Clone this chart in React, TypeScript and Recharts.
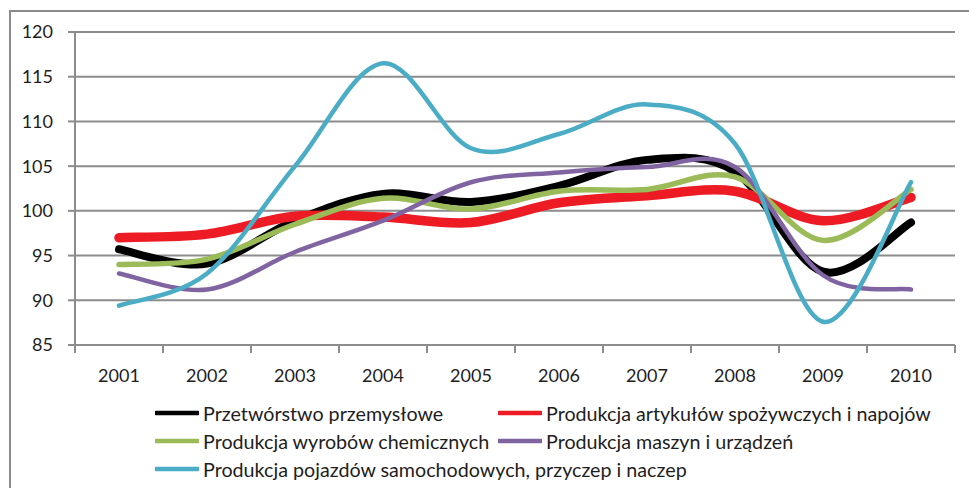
import React from 'react';
import { LineChart, Line, XAxis, YAxis, CartesianGrid, Legend } from 'recharts';

const years = ['2001', '2002', '2003', '2004', '2005', '2006', '2007', '2008', '2009', '2010'];
const przetworstwo = [95.7, 94.1, 98.9, 101.9, 101.0, 102.8, 105.7, 104.4, 93.2, 98.7];
const spozywcze = [97.0, 97.4, 99.4, 99.3, 98.7, 100.9, 101.7, 102.2, 98.9, 101.5];
const chemiczne = [94.0, 94.6, 98.5, 101.4, 100.2, 102.2, 102.4, 103.8, 96.7, 102.4];
const maszyny = [93.0, 91.2, 95.4, 98.9, 103.2, 104.3, 104.9, 104.9, 92.8, 91.2];
const pojazdy = [89.4, 93.0, 105.0, 116.5, 107.0, 108.6, 111.9, 107.5, 87.6, 103.2];
const yTicks = [85, 90, 95, 100, 105, 110, 115, 120];

const seriesNames = [
  'Przetwórstwo przemysłowe',
  'Produkcja artykułów spożywczych i napojów',
  'Produkcja wyrobów chemicznych',
  'Produkcja maszyn i urządzeń',
  'Produkcja pojazdów samochodowych, przyczep i naczep',
];
const seriesKeys = ['a', 'b', 'c', 'd', 'e'];
const seriesColors = ['#000000', '#ED1C24', '#9BBB59', '#8064A2', '#4BACC6'];
const seriesWidths = [8, 9.5, 5.5, 4.5, 4.5];

const data = years.map((y, i) => ({
  year: y,
  a: przetworstwo[i],
  b: spozywcze[i],
  c: chemiczne[i],
  d: maszyny[i],
  e: pojazdy[i],
}));

// Excel-like smoothing (Catmull-Rom / cardinal tension 0)
function excelCurve(context: any) {
  let pts: number[][] = [];
  return {
    areaStart() {},
    areaEnd() {},
    lineStart() {
      pts = [];
    },
    point(x: number, y: number) {
      pts.push([+x, +y]);
    },
    lineEnd() {
      const n = pts.length;
      if (!n) return;
      context.moveTo(pts[0][0], pts[0][1]);
      for (let i = 0; i < n - 1; i++) {
        const p0 = pts[i - 1] || pts[i];
        const p1 = pts[i];
        const p2 = pts[i + 1];
        const p3 = pts[i + 2] || pts[i + 1];
        context.bezierCurveTo(
          p1[0] + (p2[0] - p0[0]) / 6,
          p1[1] + (p2[1] - p0[1]) / 6,
          p2[0] - (p3[0] - p1[0]) / 6,
          p2[1] - (p3[1] - p1[1]) / 6,
          p2[0],
          p2[1]
        );
      }
    },
  };
}

const FONT = 'Lato, "Open Sans", sans-serif';
const TEXT = '#1e1e1e';
const GRID = '#8c8c8c';

const W = 969;
const H = 488;
const PLOT_LEFT = 75;
const PLOT_RIGHT = 955;
const BAND = (PLOT_RIGHT - PLOT_LEFT) / years.length;

const XTick = (props: any) => {
  const { x, y, payload, index } = props;
  const isLast = index === years.length - 1;
  return (
    <g>
      <line x1={x - BAND / 2} x2={x - BAND / 2} y1={y - 8} y2={y} stroke={GRID} strokeWidth={2} />
      {isLast && <line x1={x + BAND / 2} x2={x + BAND / 2} y1={y - 8} y2={y} stroke={GRID} strokeWidth={2} />}
      <text x={x} y={y + 29} textAnchor="middle" fontFamily={FONT} fontSize={18} fill={TEXT}>
        {payload.value}
      </text>
    </g>
  );
};

const LegendContent = () => (
  <div style={{ position: 'relative', width: W, height: 84, fontFamily: FONT, fontSize: 19.7, color: TEXT }}>
    {seriesNames.map((name, i) => {
      const col = i === 4 ? 0 : i % 2;
      const row = Math.floor(i / 2);
      return (
        <div
          key={name}
          style={{
            position: 'absolute',
            left: col === 0 ? 155 : 498,
            top: row * 28,
            height: 28,
            display: 'flex',
            alignItems: 'center',
            whiteSpace: 'nowrap',
          }}
        >
          <svg width={44} height={6} style={{ marginRight: 4 }}>
            <line x1={1} x2={43} y1={3} y2={3} stroke={seriesColors[i]} strokeWidth={4.5} strokeLinecap="round" />
          </svg>
          <span>{name}</span>
        </div>
      );
    })}
  </div>
);

export default function App() {
  return (
    <div style={{ position: 'absolute', left: 0, top: 0, width: W, height: H, overflow: 'hidden', background: '#fff' }}>
      <div
        style={{
          position: 'absolute',
          left: 9,
          top: 10,
          width: 1000,
          height: 600,
          border: '2px solid #8a8a8a',
          boxSizing: 'border-box',
        }}
      />
      <LineChart width={W} height={H} data={data} margin={{ top: 32, right: W - PLOT_RIGHT, bottom: 0, left: 0 }}>
        <CartesianGrid vertical={false} stroke={GRID} strokeWidth={2} />
        <XAxis
          dataKey="year"
          height={143}
          padding={{ left: BAND / 2, right: BAND / 2 }}
          axisLine={{ stroke: GRID, strokeWidth: 2 }}
          tickLine={false}
          tickSize={8}
          tickMargin={0}
          tick={<XTick />}
          interval={0}
        />
        <YAxis
          domain={[85, 120]}
          ticks={yTicks}
          width={PLOT_LEFT}
          axisLine={{ stroke: GRID, strokeWidth: 2 }}
          tickLine={{ stroke: GRID, strokeWidth: 2 }}
          tickSize={7}
          tickMargin={15}
          tick={{ fontFamily: FONT, fontSize: 18, fill: TEXT }}
          interval={0}
        />
        <Legend
          layout="horizontal"
          verticalAlign="middle"
          align="center"
          content={<LegendContent />}
          wrapperStyle={{ top: 399, left: 0, width: W, height: 84 }}
        />
        {seriesKeys.map((k, i) => (
          <Line
            key={k}
            dataKey={k}
            name={seriesNames[i]}
            type={excelCurve as any}
            stroke={seriesColors[i]}
            strokeWidth={seriesWidths[i]}
            strokeLinecap="round"
            dot={false}
            activeDot={false}
            isAnimationActive={false}
          />
        ))}
      </LineChart>
    </div>
  );
}
